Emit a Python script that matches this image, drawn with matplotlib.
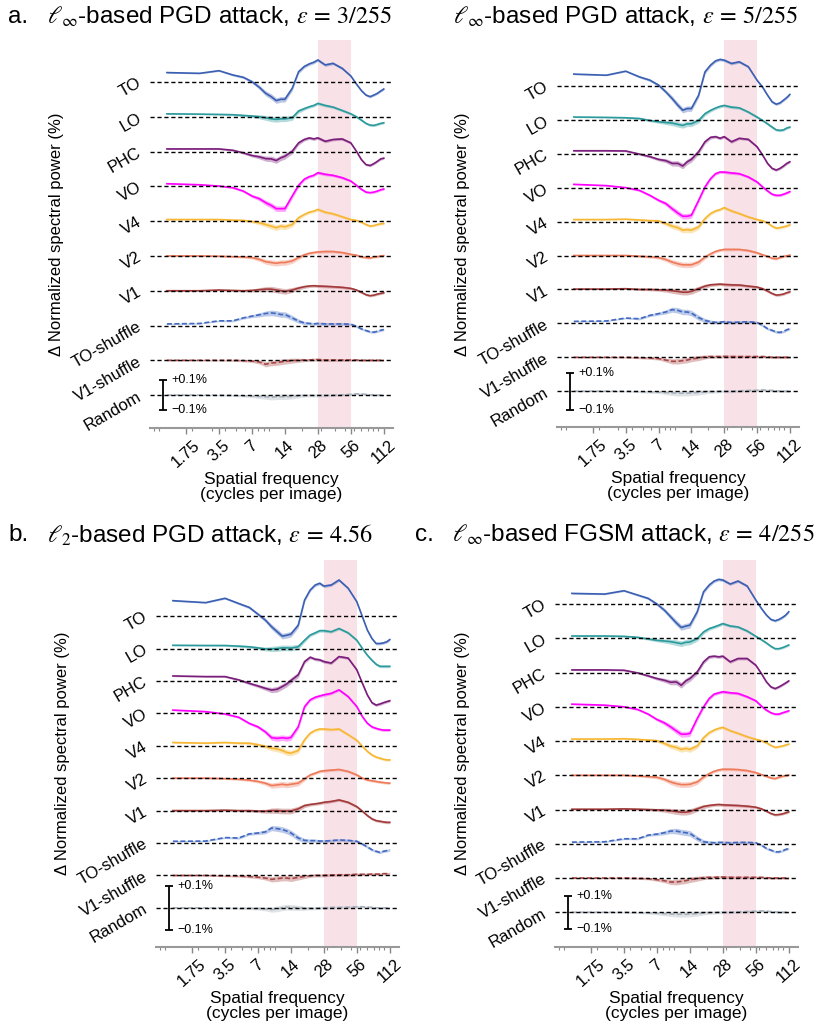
import numpy as np
import matplotlib
matplotlib.use("Agg")
import matplotlib.pyplot as plt
from matplotlib.ticker import FixedLocator, LogLocator, NullFormatter

plt.rcParams["font.family"] = ["Liberation Sans", "DejaVu Sans"]
plt.rcParams["mathtext.fontset"] = "stix"

# spatial frequency bins (cycles per image)
freqs = [1.17, 2.33, 3.5, 4.67, 5.83, 7.0, 8.17, 9.33, 10.5, 11.67, 12.83, 14.0,
         16.33, 18.67, 21.0, 23.33, 25.67, 28.0, 32.67, 38.5, 46.67, 56.0,
         63.0, 70.0, 77.0, 84.0, 91.0, 98.0, 105.0, 112.0]

regions = ["TO", "LO", "PHC", "VO", "V4", "V2", "V1", "TO-shuffle", "V1-shuffle", "Random"]
colors = ["#3b5fb3", "#2a9a9c", "#7b1d7b", "#ff00ff", "#f7b733", "#ee7a5a",
          "#a23a3a", "#4169c0", "#a84545", "#a7b2bd"]
styles = ["-"] * 7 + ["--"] * 3

tick_vals = [1.75, 3.5, 7, 14, 28, 56, 112]
tick_labels = ["1.75", "3.5", "7", "14", "28", "56", "112"]

# --- a: linf PGD, eps = 3/255 (delta %, per region)
a1_to = [0.064, 0.059, 0.077, 0.048, 0.032, 0.002, -0.036, -0.077, -0.100, -0.127, -0.118, -0.118, -0.043, 0.070, 0.105, 0.123, 0.134, 0.150, 0.116, 0.127, 0.093, 0.041, -0.014, -0.059, -0.089, -0.100, -0.089, -0.077, -0.061, -0.048]
a1_lo = [0.020, 0.018, 0.016, 0.014, 0.009, 0.005, 0.000, -0.007, -0.014, -0.018, -0.014, -0.014, -0.007, 0.039, 0.055, 0.068, 0.077, 0.091, 0.077, 0.066, 0.043, 0.020, 0.000, -0.023, -0.045, -0.057, -0.059, -0.052, -0.045, -0.041]
a1_phc = [0.018, 0.018, 0.018, 0.009, -0.009, -0.027, -0.036, -0.048, -0.050, -0.061, -0.043, -0.032, 0.002, 0.059, 0.082, 0.093, 0.086, 0.093, 0.070, 0.082, 0.086, 0.059, 0.002, -0.055, -0.089, -0.095, -0.082, -0.066, -0.050, -0.045]
a1_vo = [0.018, 0.011, 0.002, -0.009, -0.032, -0.066, -0.084, -0.111, -0.130, -0.152, -0.152, -0.152, -0.066, 0.007, 0.048, 0.066, 0.075, 0.093, 0.082, 0.075, 0.059, 0.036, 0.007, -0.020, -0.039, -0.043, -0.039, -0.032, -0.023, -0.018]
a1_v4 = [0.011, 0.011, 0.011, 0.007, 0.005, -0.002, -0.011, -0.023, -0.034, -0.045, -0.034, -0.039, -0.023, 0.023, 0.045, 0.061, 0.068, 0.080, 0.061, 0.050, 0.030, 0.011, 0.005, -0.007, -0.023, -0.034, -0.030, -0.023, -0.018, -0.016]
a1_v2 = [0.000, 0.000, -0.002, -0.005, -0.007, -0.011, -0.023, -0.039, -0.045, -0.050, -0.045, -0.045, -0.034, -0.011, 0.007, 0.018, 0.023, 0.027, 0.030, 0.030, 0.023, 0.011, 0.005, -0.007, -0.011, -0.014, -0.007, -0.005, 0.000, 0.002]
a1_v1 = [0.000, 0.000, 0.005, 0.002, 0.000, 0.002, 0.007, 0.011, 0.011, 0.005, 0.000, -0.005, 0.005, 0.018, 0.027, 0.032, 0.034, 0.032, 0.030, 0.027, 0.023, 0.016, 0.005, -0.011, -0.027, -0.034, -0.030, -0.023, -0.018, -0.014]
a1_tosh = [0.011, 0.014, 0.032, 0.032, 0.052, 0.064, 0.073, 0.082, 0.086, 0.082, 0.075, 0.075, 0.052, 0.030, 0.018, 0.014, 0.011, 0.014, 0.011, 0.011, 0.011, 0.009, -0.005, -0.023, -0.034, -0.043, -0.045, -0.039, -0.032, -0.027]
a1_v1sh = [0.000, 0.000, 0.000, 0.000, -0.002, -0.005, -0.011, -0.027, -0.018, -0.016, -0.011, -0.007, -0.002, 0.000, 0.002, 0.002, 0.005, 0.005, 0.002, 0.002, 0.002, 0.002, 0.002, 0.000, 0.000, 0.000, 0.000, 0.000, 0.000, 0.000]
a1_rand = [0.000, 0.000, 0.000, -0.002, -0.005, -0.007, -0.009, -0.011, -0.014, -0.011, -0.011, -0.011, -0.009, -0.005, -0.002, -0.002, -0.002, -0.002, -0.002, 0.000, 0.002, 0.005, 0.009, 0.007, 0.005, 0.002, 0.002, 0.000, 0.000, 0.000]
a1_sem = [0.004, 0.004, 0.005, 0.007, 0.008, 0.010, 0.014, 0.017, 0.019, 0.019, 0.019, 0.019, 0.017, 0.014, 0.011, 0.010, 0.010, 0.010, 0.010, 0.009, 0.009, 0.008, 0.008, 0.008, 0.008, 0.008, 0.008, 0.008, 0.008, 0.008]

# --- a (right): linf PGD, eps = 5/255
a2_to = [0.064, 0.058, 0.080, 0.049, 0.031, 0.004, -0.033, -0.069, -0.105, -0.133, -0.124, -0.124, -0.051, 0.076, 0.113, 0.136, 0.144, 0.140, 0.122, 0.131, 0.104, 0.031, -0.007, -0.051, -0.087, -0.100, -0.093, -0.078, -0.064, -0.047]
a2_lo = [0.015, 0.013, 0.011, 0.007, -0.004, -0.011, -0.015, -0.018, -0.025, -0.031, -0.022, -0.022, -0.004, 0.033, 0.051, 0.064, 0.073, 0.078, 0.069, 0.065, 0.042, 0.015, -0.004, -0.022, -0.040, -0.055, -0.058, -0.055, -0.045, -0.040]
a2_phc = [0.016, 0.016, 0.015, -0.002, -0.016, -0.031, -0.038, -0.053, -0.053, -0.067, -0.044, -0.031, 0.011, 0.065, 0.089, 0.093, 0.084, 0.093, 0.065, 0.084, 0.078, 0.038, -0.007, -0.053, -0.080, -0.089, -0.080, -0.067, -0.053, -0.044]
a2_vo = [0.018, 0.011, 0.000, -0.015, -0.042, -0.069, -0.087, -0.115, -0.138, -0.156, -0.156, -0.151, -0.069, 0.004, 0.049, 0.076, 0.085, 0.085, 0.080, 0.076, 0.058, 0.031, 0.004, -0.018, -0.036, -0.042, -0.042, -0.036, -0.029, -0.022]
a2_v4 = [0.011, 0.011, 0.013, 0.009, 0.005, 0.004, -0.011, -0.025, -0.033, -0.047, -0.044, -0.047, -0.029, 0.016, 0.044, 0.058, 0.065, 0.076, 0.058, 0.044, 0.025, 0.011, 0.004, -0.007, -0.025, -0.036, -0.033, -0.029, -0.024, -0.018]
a2_v2 = [0.000, 0.000, 0.000, -0.004, -0.007, -0.011, -0.022, -0.036, -0.045, -0.051, -0.051, -0.051, -0.036, -0.009, 0.009, 0.022, 0.029, 0.033, 0.033, 0.033, 0.027, 0.015, 0.004, -0.005, -0.015, -0.018, -0.011, -0.005, -0.002, 0.002]
a2_v1 = [0.002, 0.002, 0.004, 0.000, 0.000, -0.002, -0.004, -0.007, -0.011, -0.015, -0.015, -0.011, 0.004, 0.018, 0.025, 0.027, 0.029, 0.027, 0.025, 0.024, 0.018, 0.013, 0.004, -0.009, -0.022, -0.031, -0.029, -0.025, -0.018, -0.013]
a2_tosh = [0.011, 0.013, 0.029, 0.025, 0.044, 0.053, 0.062, 0.075, 0.071, 0.062, 0.062, 0.056, 0.031, 0.016, 0.009, 0.005, 0.007, 0.009, 0.005, 0.007, 0.009, 0.005, -0.011, -0.029, -0.038, -0.047, -0.049, -0.044, -0.035, -0.029]
a2_v1sh = [0.000, 0.000, 0.000, -0.002, -0.004, -0.007, -0.015, -0.022, -0.022, -0.018, -0.015, -0.009, -0.004, 0.002, 0.004, 0.004, 0.004, 0.005, 0.004, 0.004, 0.004, 0.004, 0.004, 0.002, 0.000, 0.000, 0.000, 0.000, 0.000, 0.000]
a2_rand = [0.000, 0.000, 0.000, -0.002, -0.004, -0.005, -0.007, -0.009, -0.011, -0.011, -0.011, -0.009, -0.007, -0.004, -0.002, -0.002, 0.000, 0.000, 0.000, 0.002, 0.004, 0.005, 0.007, 0.005, 0.004, 0.002, 0.000, 0.000, 0.000, 0.000]
a2_sem = [0.003, 0.003, 0.004, 0.006, 0.007, 0.008, 0.011, 0.014, 0.015, 0.015, 0.015, 0.015, 0.014, 0.011, 0.009, 0.008, 0.008, 0.008, 0.008, 0.007, 0.007, 0.007, 0.007, 0.007, 0.007, 0.007, 0.007, 0.007, 0.007, 0.007]

# --- b: l2 PGD, eps = 4.56
b_to = [0.071, 0.062, 0.082, 0.058, 0.040, 0.009, -0.018, -0.049, -0.072, -0.092, -0.088, -0.083, -0.042, 0.074, 0.120, 0.143, 0.151, 0.138, 0.143, 0.166, 0.128, 0.066, -0.003, -0.065, -0.103, -0.126, -0.126, -0.123, -0.118, -0.108]
b_lo = [0.015, 0.014, 0.014, 0.011, 0.008, 0.003, -0.002, -0.002, 0.000, 0.003, 0.003, 0.002, 0.008, 0.038, 0.062, 0.072, 0.082, 0.082, 0.077, 0.092, 0.072, 0.038, 0.000, -0.031, -0.054, -0.072, -0.082, -0.082, -0.082, -0.082]
b_phc = [0.023, 0.020, 0.020, 0.005, -0.011, -0.023, -0.034, -0.042, -0.038, -0.026, -0.014, 0.002, 0.028, 0.089, 0.109, 0.100, 0.097, 0.089, 0.082, 0.112, 0.105, 0.051, -0.011, -0.065, -0.100, -0.111, -0.106, -0.100, -0.095, -0.091]
b_vo = [0.015, 0.008, -0.003, -0.018, -0.046, -0.062, -0.085, -0.112, -0.115, -0.112, -0.115, -0.111, -0.062, 0.031, 0.062, 0.074, 0.080, 0.085, 0.092, 0.108, 0.077, 0.031, -0.015, -0.046, -0.062, -0.069, -0.074, -0.077, -0.077, -0.077]
b_v4 = [0.015, 0.012, 0.015, 0.012, 0.012, 0.005, -0.003, -0.011, -0.015, -0.022, -0.031, -0.034, -0.022, 0.028, 0.058, 0.071, 0.077, 0.077, 0.074, 0.077, 0.051, 0.025, -0.003, -0.026, -0.042, -0.052, -0.057, -0.062, -0.065, -0.065]
b_v2 = [0.000, 0.000, -0.002, -0.005, -0.009, -0.015, -0.023, -0.034, -0.031, -0.028, -0.031, -0.028, -0.023, -0.003, 0.015, 0.023, 0.031, 0.034, 0.037, 0.040, 0.031, 0.015, 0.000, -0.008, -0.012, -0.015, -0.018, -0.020, -0.022, -0.023]
b_v1 = [0.000, 0.000, 0.002, 0.000, 0.000, -0.002, -0.003, 0.000, 0.000, -0.002, -0.002, -0.002, 0.008, 0.023, 0.028, 0.031, 0.034, 0.038, 0.042, 0.049, 0.038, 0.018, -0.003, -0.023, -0.038, -0.046, -0.049, -0.052, -0.054, -0.054]
b_tosh = [0.008, 0.009, 0.025, 0.023, 0.042, 0.046, 0.051, 0.069, 0.066, 0.062, 0.055, 0.046, 0.023, 0.012, 0.011, 0.011, 0.009, 0.009, 0.011, 0.014, 0.012, 0.008, -0.005, -0.018, -0.031, -0.038, -0.043, -0.038, -0.035, -0.031]
b_v1sh = [0.000, 0.000, -0.002, -0.003, -0.005, -0.008, -0.012, -0.018, -0.015, -0.012, -0.012, -0.015, -0.009, -0.005, -0.002, 0.000, 0.000, 0.000, 0.002, 0.003, 0.003, 0.005, 0.005, 0.005, 0.006, 0.006, 0.006, 0.008, 0.008, 0.008]
b_rand = [0.000, 0.000, 0.000, -0.002, -0.002, -0.003, -0.005, -0.008, -0.005, 0.000, 0.003, 0.002, 0.000, -0.002, -0.002, -0.002, 0.000, 0.000, 0.002, 0.002, 0.003, 0.005, 0.005, 0.003, 0.002, 0.000, 0.000, 0.000, 0.000, 0.000]
b_sem = [0.003, 0.003, 0.004, 0.005, 0.006, 0.007, 0.009, 0.012, 0.013, 0.013, 0.013, 0.013, 0.012, 0.009, 0.007, 0.007, 0.007, 0.007, 0.006, 0.006, 0.006, 0.006, 0.006, 0.006, 0.006, 0.006, 0.006, 0.006, 0.006, 0.006]

# --- c: linf FGSM, eps = 4/255
c_to = [0.064, 0.060, 0.080, 0.054, 0.034, 0.000, -0.036, -0.076, -0.112, -0.140, -0.132, -0.126, -0.046, 0.074, 0.114, 0.138, 0.148, 0.144, 0.120, 0.138, 0.108, 0.024, -0.026, -0.066, -0.092, -0.100, -0.092, -0.080, -0.066, -0.046]
c_lo = [0.014, 0.014, 0.012, 0.006, -0.004, -0.012, -0.016, -0.020, -0.026, -0.032, -0.024, -0.022, -0.002, 0.038, 0.058, 0.068, 0.078, 0.088, 0.074, 0.068, 0.044, 0.012, -0.008, -0.028, -0.048, -0.062, -0.062, -0.056, -0.048, -0.040]
c_phc = [0.016, 0.016, 0.014, -0.002, -0.020, -0.036, -0.046, -0.058, -0.056, -0.076, -0.050, -0.036, 0.004, 0.064, 0.094, 0.098, 0.094, 0.098, 0.064, 0.084, 0.084, 0.044, -0.006, -0.056, -0.086, -0.096, -0.086, -0.074, -0.062, -0.050]
c_vo = [0.016, 0.010, 0.000, -0.016, -0.044, -0.076, -0.096, -0.120, -0.144, -0.164, -0.164, -0.160, -0.070, 0.000, 0.050, 0.076, 0.084, 0.090, 0.084, 0.080, 0.060, 0.036, 0.004, -0.020, -0.036, -0.044, -0.044, -0.036, -0.030, -0.024]
c_v4 = [0.012, 0.012, 0.014, 0.010, 0.006, 0.002, -0.014, -0.030, -0.038, -0.050, -0.044, -0.050, -0.030, 0.020, 0.050, 0.066, 0.076, 0.082, 0.062, 0.046, 0.026, 0.010, 0.002, -0.010, -0.026, -0.038, -0.034, -0.030, -0.024, -0.018]
c_v2 = [0.000, 0.000, 0.000, -0.004, -0.008, -0.012, -0.024, -0.040, -0.050, -0.056, -0.056, -0.054, -0.040, -0.010, 0.010, 0.024, 0.032, 0.036, 0.036, 0.034, 0.028, 0.016, 0.004, -0.006, -0.016, -0.020, -0.012, -0.006, -0.002, 0.002]
c_v1 = [0.002, 0.002, 0.004, 0.002, 0.000, -0.002, -0.004, -0.008, -0.012, -0.016, -0.016, -0.012, 0.004, 0.018, 0.024, 0.028, 0.030, 0.028, 0.026, 0.024, 0.020, 0.014, 0.004, -0.010, -0.024, -0.032, -0.030, -0.026, -0.020, -0.014]
c_tosh = [0.010, 0.012, 0.030, 0.030, 0.052, 0.058, 0.066, 0.076, 0.076, 0.070, 0.066, 0.062, 0.032, 0.012, 0.008, 0.006, 0.008, 0.008, 0.006, 0.008, 0.008, 0.006, -0.008, -0.028, -0.038, -0.048, -0.048, -0.042, -0.034, -0.028]
c_v1sh = [0.000, 0.000, 0.000, -0.002, -0.004, -0.010, -0.016, -0.024, -0.024, -0.020, -0.016, -0.010, -0.004, 0.002, 0.004, 0.004, 0.006, 0.006, 0.004, 0.004, 0.004, 0.004, 0.004, 0.002, 0.000, 0.000, 0.000, 0.000, 0.000, 0.000]
c_rand = [0.000, 0.000, 0.000, -0.002, -0.004, -0.006, -0.008, -0.010, -0.012, -0.012, -0.012, -0.010, -0.008, -0.004, -0.002, -0.002, 0.000, 0.000, 0.000, 0.002, 0.004, 0.006, 0.008, 0.006, 0.004, 0.002, 0.000, 0.000, 0.000, 0.000]
c_sem = [0.004, 0.004, 0.005, 0.006, 0.007, 0.009, 0.012, 0.015, 0.017, 0.017, 0.017, 0.017, 0.015, 0.012, 0.010, 0.009, 0.009, 0.009, 0.008, 0.008, 0.008, 0.007, 0.007, 0.007, 0.007, 0.007, 0.007, 0.007, 0.007, 0.007]


def draw_panel(ax, traces, sem, spacing, ylim):
    ax.set_xscale("log")
    ax.axvspan(28, 56, color="#f9e1e8", lw=0, zorder=0)
    n = len(traces)
    sem = np.array(sem)
    bases = [(n - 1 - i) * spacing for i in range(n)]
    for vals, base, col, ls in zip(traces, bases, colors, styles):
        y = base + np.array(vals)
        ax.fill_between(freqs, y - sem, y + sem, color=col, alpha=0.35, lw=0, zorder=2)
        ax.plot(freqs, y, color=col, lw=1.2, ls=ls, dashes=(3, 1.5) if ls == "--" else (None, None), zorder=2)
        ax.axhline(base, color="k", lw=1.0, dashes=(3, 2), zorder=3)

    # scale bar at the Random baseline
    ax.errorbar([1.07], [0], yerr=[0.1], color="k", lw=1.3, capsize=3, capthick=1.3, zorder=4)
    ax.annotate("+0.1%", (1.07, 0.1), xytext=(6, 0), textcoords="offset points",
                ha="left", va="center", fontsize=9)
    ax.annotate("\u22120.1%", (1.07, -0.1), xytext=(6, 0), textcoords="offset points",
                ha="left", va="center", fontsize=9)

    ax.set_xlim(0.82, 136)
    ax.set_ylim(*ylim)
    ax.set_yticks(bases)
    ax.set_yticklabels(regions, rotation=30, ha="right", va="center",
                       rotation_mode="anchor", fontsize=12)
    ax.tick_params(axis="y", length=0, pad=7)

    ax.xaxis.set_major_locator(FixedLocator(tick_vals))
    ax.set_xticklabels(tick_labels, rotation=42, fontsize=12)
    ax.xaxis.set_minor_locator(LogLocator(base=10, subs=np.arange(1, 10)))
    ax.xaxis.set_minor_formatter(NullFormatter())
    ax.tick_params(axis="x", which="major", length=4, width=1, color="#888888", pad=3)
    ax.tick_params(axis="x", which="minor", length=2.5, width=0.8, color="#888888")

    for side in ["left", "top", "right"]:
        ax.spines[side].set_visible(False)
    ax.spines["bottom"].set_color("#999999")
    ax.spines["bottom"].set_linewidth(1.5)

    ax.text(0.5, -0.152, "Spatial frequency\n(cycles per image)", transform=ax.transAxes,
            ha="center", va="center", fontsize=12.5, linespacing=1.05)


fig = plt.figure(figsize=(8.25, 10.28), dpi=100)

W, H = 825, 1028


def add_axes(left, right, top, bottom):
    return fig.add_axes([left / W, 1 - bottom / H, (right - left) / W, (bottom - top) / H])


ax_a1 = add_axes(150, 393, 40, 428)
ax_a2 = add_axes(557, 799, 40, 427)
ax_b = add_axes(156, 399, 560, 947)
ax_c = add_axes(555, 798, 560, 947)

draw_panel(ax_a1, [a1_to, a1_lo, a1_phc, a1_vo, a1_v4, a1_v2, a1_v1, a1_tosh, a1_v1sh, a1_rand],
           a1_sem, 0.237, (-0.224, 2.419))
draw_panel(ax_a2, [a2_to, a2_lo, a2_phc, a2_vo, a2_v4, a2_v2, a2_v1, a2_tosh, a2_v1sh, a2_rand],
           a2_sem, 0.185, (-0.195, 1.915))
draw_panel(ax_b, [b_to, b_lo, b_phc, b_vo, b_v4, b_v2, b_v1, b_tosh, b_v1sh, b_rand],
           b_sem, 0.149, (-0.180, 1.599))
draw_panel(ax_c, [c_to, c_lo, c_phc, c_vo, c_v4, c_v2, c_v1, c_tosh, c_v1sh, c_rand],
           c_sem, 0.205, (-0.208, 2.109))

# y labels
ylab = "\u0394 Normalized spectral power (%)"
fig.text(57 / W, 1 - 234 / H, ylab, rotation=90, ha="center", va="center", fontsize=12)
fig.text(463 / W, 1 - 234 / H, ylab, rotation=90, ha="center", va="center", fontsize=12)
fig.text(63 / W, 1 - 753 / H, ylab, rotation=90, ha="center", va="center", fontsize=12)
fig.text(462 / W, 1 - 753 / H, ylab, rotation=90, ha="center", va="center", fontsize=12)

# panel letters and titles
tfs = 17.5
fig.text(8 / W, 1 - 17 / H, "a.", ha="left", va="center", fontsize=tfs)
fig.text(47 / W, 1 - 17 / H, r"$\ell_\infty$-based PGD attack, $\epsilon\,=\,3/255$",
         ha="left", va="center", fontsize=tfs)
fig.text(453 / W, 1 - 17 / H, r"$\ell_\infty$-based PGD attack, $\epsilon\,=\,5/255$",
         ha="left", va="center", fontsize=tfs)
fig.text(8 / W, 1 - 535 / H, "b.", ha="left", va="center", fontsize=tfs)
fig.text(47 / W, 1 - 535 / H, r"$\ell_2$-based PGD attack, $\epsilon\,=\,4.56$",
         ha="left", va="center", fontsize=tfs)
fig.text(415 / W, 1 - 535 / H, "c.", ha="left", va="center", fontsize=tfs)
fig.text(452 / W, 1 - 535 / H, r"$\ell_\infty$-based FGSM attack, $\epsilon\,=\,4/255$",
         ha="left", va="center", fontsize=tfs)

fig.savefig("out.png", dpi=100)
